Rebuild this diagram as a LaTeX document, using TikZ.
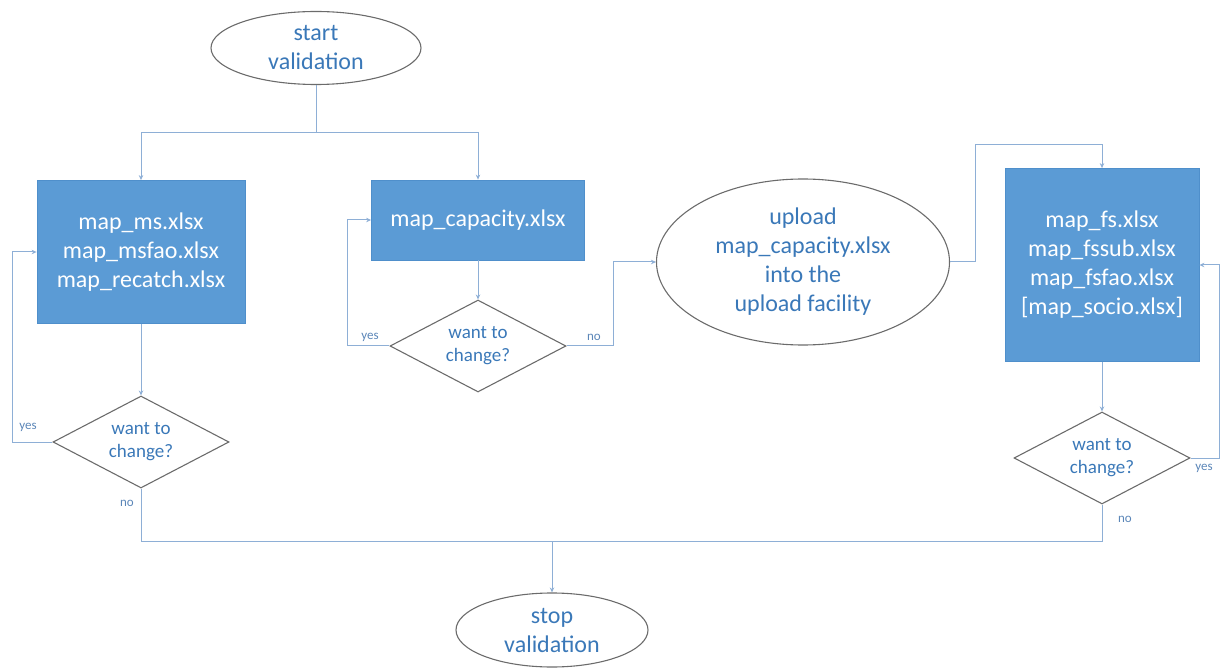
\documentclass[tikz,border=0pt]{standalone}
\usepackage{fontspec}
\setmainfont{Carlito}
\usetikzlibrary{shapes.geometric,arrows.meta}
\definecolor{boxblue}{HTML}{5B9BD5}
\definecolor{boxedge}{HTML}{4F8FCB}
\definecolor{txtblue}{HTML}{3A78B8}
\definecolor{linec}{HTML}{8EAFD6}
\definecolor{bordc}{HTML}{6B6B6B}
\definecolor{lblc}{HTML}{5B86B8}
\tikzset{
  term/.style={ellipse, draw=bordc, line width=1.1pt, inner sep=0pt, align=center,
    text=txtblue, font=\fontsize{24}{29}\selectfont},
  filebox/.style={rectangle, fill=boxblue, draw=boxedge, line width=0.8pt, align=center,
    text=white, font=\fontsize{24}{29}\selectfont, inner sep=0pt},
  ask/.style={diamond, draw=bordc, line width=1.1pt, inner sep=0pt, aspect=1.9,
    minimum width=176, minimum height=92, align=center, text=txtblue,
    font=\fontsize{19}{23}\selectfont},
  conn/.style={draw=linec, line width=1pt},
  arr/.style={conn, -{Stealth[length=5pt,width=4.5pt]}},
  lbl/.style={text=lblc, font=\fontsize{13}{15}\selectfont, inner sep=0pt}
}
\begin{document}
\begin{tikzpicture}[x=1pt,y=-1pt]
\useasboundingbox (0,0) rectangle (1221,668);
% nodes
\node[term, minimum width=210, minimum height=73] (start) at (316,48) {start\\validation};
\node[filebox, minimum width=208, minimum height=143] (b1) at (141,252) {map\_ms.xlsx\\map\_msfao.xlsx\\map\_recatch.xlsx};
\node[filebox, minimum width=213, minimum height=80] (b2) at (478,220) {map\_capacity.xlsx};
\node[term, minimum width=293, minimum height=166] (up) at (803,262) {upload\\map\_capacity.xlsx\\into the\\upload facility};
\node[filebox, minimum width=194, minimum height=193] (b3) at (1102,265) {map\_fs.xlsx\\map\_fssub.xlsx\\map\_fsfao.xlsx\\{[}map\_socio.xlsx{]}};
\node[ask] (d1) at (141,442) {want to\\change?};
\node[ask] (d2) at (478,346) {want to\\change?};
\node[ask] (d3) at (1102,458) {want to\\change?};
\node[term, minimum width=192, minimum height=74] (stop) at (552,630) {stop\\validation};
% coordinates
\coordinate (split) at (316,133);
\coordinate (y1) at (12,442);
\coordinate (y2) at (347,346);
\coordinate (n2) at (613,346);
\coordinate (u1) at (975,145);
\coordinate (y3) at (1219,458);
\coordinate (m) at (552,541);
% connectors
\draw[conn] (start) -- (split);
\draw[arr] (split) -| (b1.north);
\draw[arr] (split) -| (b2.north);
\draw[arr] (b1) -- (d1);
\draw[arr] (b2) -- (d2);
\draw[arr] (b3) -- (d3);
\draw[arr] (d1.west) -- (y1) |- (b1.west);
\draw[arr] (d2.west) -- (y2) |- (b2.west);
\draw[arr] (d2.east) -- (n2) |- (up.west);
\draw[arr] (up.east) -| (u1) -| (b3.north);
\draw[arr] (d3.east) -- (y3) |- (b3.east);
\draw[conn] (d1.south) |- (m);
\draw[conn] (d3.south) |- (m);
\draw[arr] (m) -- (stop.north);
% labels
\node[lbl] (l1) at (28,427) {yes};
\node[lbl] (l2) at (127,503) {no};
\node[lbl] (l3) at (370,337) {yes};
\node[lbl] (l4) at (594,337) {no};
\node[lbl] (l5) at (1204,468) {yes};
\node[lbl] (l6) at (1125,519) {no};
\end{tikzpicture}
\end{document}
